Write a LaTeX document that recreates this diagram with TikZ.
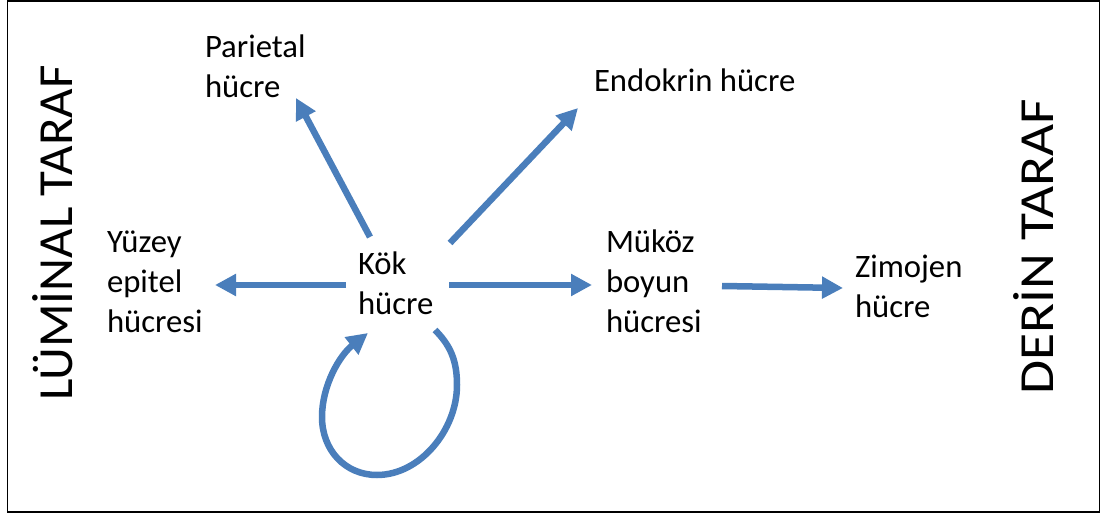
\documentclass[tikz,border=0pt]{standalone}
\usepackage{fontspec}
\usepackage{graphicx}
\setmainfont{Carlito}
\usetikzlibrary{arrows.meta}
\definecolor{flow}{HTML}{4A7EBB}
\tikzset{
  lbl/.style={anchor=base west, inner sep=0pt, outer sep=0pt, align=left,
    font=\fontsize{32.7}{40}\selectfont},
  side/.style={anchor=base, inner sep=0pt, rotate=90,
    font=\fontsize{49}{58}\selectfont},
  arr/.style={draw=flow, line width=6.5pt,
    -{Triangle[length=21pt,width=21pt]}},
}
\begin{document}
\begin{tikzpicture}[x=1pt,y=-1pt]
  \useasboundingbox (0,0) rectangle (1101,513);
  \draw[line width=1.5pt] (7.5,1) rectangle (1099.5,512);

  % side labels
  \node[side] (luminal) at (72,233) {\scalebox{1.04}[1]{LÜMİNAL TARAF}};
  \node[side] (derin) at (1053,246.5) {\scalebox{1.13}[1]{DERİN TARAF}};

  % cell types (anchored at the baseline of their last line)
  \node[lbl] (parietal) at (205,98) {Parietal\\hücre};
  \node[lbl] (endokrin) at (594,92) {Endokrin hücre};
  \node[lbl] (yuzey) at (107,332) {Yüzey\\epitel\\hücresi};
  \node[lbl] (kok) at (358,315) {Kök\\hücre};
  \node[lbl] (mukoz) at (606,332) {Müköz\\boyun\\hücresi};
  \node[lbl] (zimojen) at (855,317) {Zimojen\\hücre};

  % differentiation arrows
  \draw[arr] ([shift={(12,-78)}]kok.base west) -- ([shift={(91,0)}]parietal.base west);
  \draw[arr] ([shift={(92,-72)}]kok.base west) -- ([shift={(-16,16)}]endokrin.base west);
  \draw[arr] ([shift={(-12,-30)}]kok.base west) -- ([shift={(108,-47)}]yuzey.base west);
  \draw[arr] ([shift={(91,-30)}]kok.base west) -- ([shift={(-14,-47)}]mukoz.base west);
  \draw[arr] ([shift={(116,-46)}]mukoz.base west) -- ([shift={(-12,-29)}]zimojen.base west);

  % self-renewal loop
  \draw[arr] ([shift={(77,15)}]kok.base west)
    .. controls (450,345) and (457,360) .. (457,385)
    .. controls (457,430) and (420,475) .. (377,475)
    .. controls (345,475) and (322,450) .. (322,417)
    .. controls (322,385) and (340,355) .. ([shift={(10,18)}]kok.base west);
\end{tikzpicture}
\end{document}
